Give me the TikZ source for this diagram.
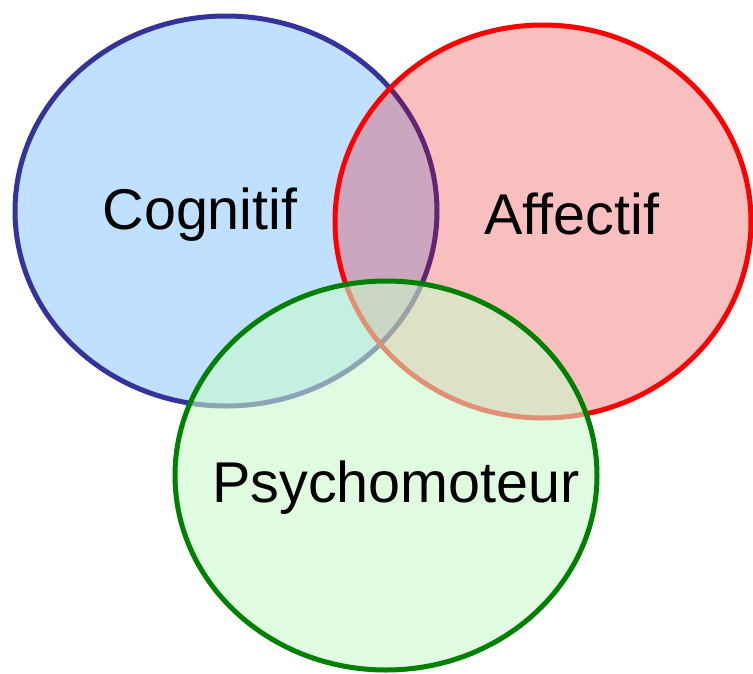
\documentclass[tikz,border=0pt]{standalone}
\usepackage{fontspec}
\setmainfont{Liberation Sans}
\definecolor{cogfill}{RGB}{192,224,255}
\definecolor{cogline}{RGB}{51,51,153}
\definecolor{afffill}{RGB}{232,0,0}
\definecolor{affline}{RGB}{255,0,0}
\definecolor{psyfill}{RGB}{202,250,202}
\definecolor{psyline}{RGB}{0,128,0}
\tikzset{
  setshape/.style={line width=5pt},
  setlabel/.style={font=\fontsize{57.5}{64}\selectfont, text=black, inner sep=0pt}
}
\begin{document}
\begin{tikzpicture}[x=1pt,y=-1pt]
\useasboundingbox (0,0) rectangle (753,673);
\draw[setshape, draw=cogline, fill=cogfill] (226,211) ellipse [x radius=211, y radius=195];
\draw[setshape, draw=affline, fill=afffill, fill opacity=0.25] (543,221.5) ellipse [x radius=208, y radius=196.5];
\draw[setshape, draw=psyline, fill=psyfill, fill opacity=0.58] (386,475.5) ellipse [x radius=211, y radius=194.5];
\node[setlabel] (cog) at (200,215) {Cognitif};
\node[setlabel] (aff) at (572,214) {Affectif};
\node[setlabel] (psy) at (396,488) {Psychomoteur};
\end{tikzpicture}
\end{document}
